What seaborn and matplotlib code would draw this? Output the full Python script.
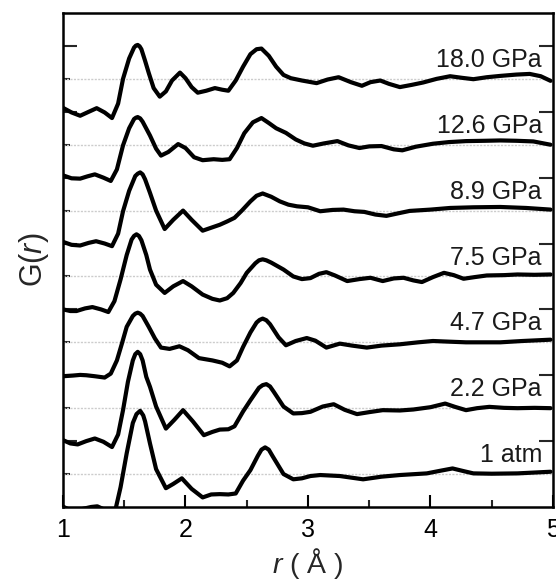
import numpy as np
import matplotlib
matplotlib.use("Agg")
import matplotlib.pyplot as plt
import seaborn as sns

# G(r) curves, offset by 2 per pressure
labels = ["1 atm", "2.2 GPa", "4.7 GPa", "7.5 GPa", "8.9 GPa", "12.6 GPa", "18.0 GPa"]
offsets = [0, 2, 4, 6, 8, 10, 12]

r_1atm = [1.00, 1.05, 1.10, 1.17, 1.23, 1.28, 1.35, 1.40, 1.43, 1.47, 1.52, 1.57, 1.60, 1.63, 1.655, 1.67, 1.71, 1.76,
          1.84, 1.90, 1.97, 2.05, 2.14, 2.21, 2.28, 2.35, 2.41, 2.47, 2.53, 2.59, 2.62, 2.65, 2.68, 2.71, 2.80, 2.88,
          2.95, 3.02, 3.10, 3.26, 3.45, 3.60, 3.75, 3.97, 4.08, 4.18, 4.28, 4.35, 4.50, 4.71, 4.98]
g_1atm = [-0.99, -1.08, -1.12, -1.05, -1.0, -0.98, -1.10, -1.20, -1.05, -0.40, 0.63, 1.55, 1.82, 1.92, 1.78, 1.60, 0.93, 0.15,
          -0.43, -0.30, -0.13, -0.45, -0.71, -0.62, -0.61, -0.62, -0.59, -0.20, 0.12, 0.55, 0.74, 0.81, 0.74, 0.55, 0.0, -0.16,
          -0.13, -0.06, -0.03, -0.06, -0.16, -0.08, -0.03, 0.02, 0.10, 0.17, 0.08, 0.02, 0.01, 0.02, 0.07]

r_2p2 = [1.00, 1.06, 1.12, 1.19, 1.26, 1.33, 1.40, 1.45, 1.49, 1.53, 1.57, 1.59, 1.61, 1.63, 1.65, 1.68, 1.71, 1.76,
         1.84, 1.91, 1.98, 2.06, 2.15, 2.22, 2.28, 2.35, 2.40, 2.47, 2.53, 2.60, 2.63, 2.66, 2.69, 2.72, 2.80, 2.88,
         2.95, 3.02, 3.12, 3.21, 3.30, 3.40, 3.50, 3.61, 3.75, 3.86, 4.00, 4.12, 4.20, 4.29, 4.38, 4.48,
         4.60, 4.71, 4.85, 4.98]
g_2p2 = [-0.97, -1.07, -1.10, -1.00, -0.92, -1.02, -1.18, -0.80, -0.06, 0.80, 1.45, 1.64, 1.71, 1.64, 1.45, 0.95, 0.65, 0.05,
         -0.62, -0.35, -0.06, -0.40, -0.82, -0.72, -0.65, -0.64, -0.55, -0.10, 0.24, 0.62, 0.70, 0.73, 0.66, 0.50, 0.05, -0.16,
         -0.15, -0.11, 0.05, 0.12, -0.05, -0.18, -0.12, -0.06, -0.07, -0.04, 0.03, 0.14, 0.04, -0.06, 0.0, 0.04,
         0.01, 0.0, 0.01, 0.0]

r_4p7 = [1.00, 1.08, 1.14, 1.19, 1.26, 1.34, 1.39, 1.44, 1.48, 1.52, 1.57, 1.59, 1.61, 1.63, 1.65, 1.70, 1.75, 1.80,
         1.87, 1.95, 2.02, 2.11, 2.22, 2.30, 2.36, 2.42, 2.47, 2.53, 2.58, 2.605, 2.63, 2.66, 2.69, 2.76, 2.82, 2.90,
         2.99, 3.06, 3.15, 3.26, 3.36, 3.48, 3.60, 3.75, 3.90, 4.02, 4.15, 4.29, 4.45, 4.57, 4.75, 4.98]
g_4p7 = [-1.03, -1.01, -0.99, -1.00, -1.03, -1.07, -0.95, -0.55, -0.05, 0.47, 0.80, 0.87, 0.90, 0.87, 0.80, 0.47, 0.12, -0.16,
         -0.20, -0.12, -0.24, -0.48, -0.55, -0.62, -0.73, -0.55, -0.14, 0.30, 0.60, 0.68, 0.72, 0.67, 0.55, 0.15, -0.09, 0.04,
         0.13, 0.05, -0.16, -0.04, -0.10, -0.16, -0.10, -0.06, 0.0, 0.04, 0.02, 0.0, 0.0, 0.0, 0.04, 0.08]

r_7p5 = [1.00, 1.06, 1.11, 1.18, 1.24, 1.31, 1.37, 1.42, 1.47, 1.52, 1.56, 1.58, 1.60, 1.62, 1.64, 1.68, 1.71, 1.76,
         1.83, 1.90, 1.98, 2.05, 2.14, 2.22, 2.28, 2.34, 2.39, 2.45, 2.50, 2.57, 2.60, 2.63, 2.66, 2.70, 2.80, 2.88,
         2.95, 3.02, 3.09, 3.15, 3.22, 3.32, 3.42, 3.51, 3.61, 3.70, 3.78, 3.86, 3.93, 4.02, 4.11, 4.19,
         4.27, 4.36, 4.46, 4.60, 4.71, 4.85, 4.98]
g_7p5 = [-1.00, -1.05, -1.05, -0.97, -0.93, -1.00, -1.08, -0.75, -0.09, 0.65, 1.12, 1.23, 1.28, 1.23, 1.10, 0.65, 0.21, -0.25,
         -0.50, -0.30, -0.14, -0.30, -0.55, -0.68, -0.73, -0.66, -0.50, -0.20, 0.11, 0.40, 0.49, 0.52, 0.49, 0.42, 0.21, 0.0,
         -0.08, -0.05, 0.08, 0.13, 0.03, -0.14, -0.08, -0.04, -0.14, -0.06, -0.04, -0.12, -0.17, -0.02, 0.11, 0.04,
         -0.07, -0.02, 0.03, 0.04, 0.06, 0.05, 0.06]

r_8p9 = [1.00, 1.07, 1.14, 1.21, 1.27, 1.34, 1.40, 1.45, 1.49, 1.54, 1.59, 1.61, 1.63, 1.65, 1.67, 1.71, 1.76, 1.83,
         1.90, 1.98, 2.05, 2.14, 2.21, 2.28, 2.34, 2.40, 2.46, 2.53, 2.58, 2.63, 2.70, 2.77, 2.84, 2.91,
         3.00, 3.10, 3.20, 3.29, 3.38, 3.46, 3.55, 3.64, 3.74, 3.83, 4.00, 4.16, 4.35, 4.57, 4.78, 4.98]
g_8p9 = [-0.95, -1.04, -1.06, -0.98, -0.93, -1.00, -1.08, -0.70, -0.02, 0.60, 1.05, 1.12, 1.16, 1.10, 0.95, 0.54, 0.00, -0.56,
         -0.28, 0.00, -0.28, -0.61, -0.52, -0.43, -0.33, -0.22, 0.00, 0.28, 0.45, 0.52, 0.42, 0.28, 0.18, 0.13,
         0.10, -0.02, 0.02, 0.03, -0.02, -0.04, -0.12, -0.16, -0.08, -0.01, 0.03, 0.08, 0.10, 0.11, 0.08, 0.03]

r_12p6 = [1.00, 1.07, 1.14, 1.20, 1.26, 1.33, 1.39, 1.44, 1.49, 1.54, 1.58, 1.595, 1.61, 1.63, 1.65, 1.71, 1.76, 1.80,
          1.86, 1.94, 2.00, 2.07, 2.14, 2.23, 2.30, 2.36, 2.42, 2.48, 2.55, 2.62, 2.68, 2.74, 2.82, 2.90,
          2.97, 3.04, 3.13, 3.24, 3.33, 3.42, 3.50, 3.60, 3.70, 3.77, 3.88, 4.02, 4.15, 4.29, 4.45, 4.57,
          4.70, 4.84, 4.98]
g_12p6 = [-0.93, -1.02, -1.03, -0.96, -0.90, -1.00, -1.10, -0.75, -0.02, 0.50, 0.78, 0.82, 0.84, 0.80, 0.70, 0.28, -0.12, -0.33,
          -0.22, 0.02, -0.10, -0.38, -0.47, -0.44, -0.46, -0.44, -0.10, 0.35, 0.68, 0.81, 0.66, 0.50, 0.36, 0.16,
          0.04, -0.03, 0.04, 0.11, -0.02, -0.10, -0.05, -0.04, -0.14, -0.17, -0.06, 0.03, 0.08, 0.11, 0.12, 0.13,
          0.12, 0.10, 0.0]

r_18p0 = [1.00, 1.07, 1.14, 1.21, 1.275, 1.34, 1.40, 1.45, 1.49, 1.54, 1.58, 1.595, 1.61, 1.625, 1.64, 1.67, 1.70, 1.74,
          1.79, 1.84, 1.89, 1.955, 2.00, 2.05, 2.10, 2.17, 2.24, 2.30, 2.35, 2.41, 2.47, 2.53, 2.58, 2.62,
          2.68, 2.74, 2.80, 2.86, 2.95, 3.07, 3.16, 3.25, 3.35, 3.44, 3.51, 3.59, 3.66, 3.75, 3.85, 3.94,
          4.05, 4.16, 4.26, 4.35, 4.46, 4.57, 4.70, 4.81, 4.90, 4.98]
g_18p0 = [-0.88, -1.02, -1.12, -1.00, -0.89, -1.02, -1.19, -0.75, 0.0, 0.62, 0.95, 1.01, 1.03, 0.99, 0.90, 0.55, 0.18, -0.28,
          -0.54, -0.38, -0.05, 0.19, 0.02, -0.25, -0.42, -0.36, -0.28, -0.33, -0.36, -0.05, 0.37, 0.75, 0.90, 0.92,
          0.70, 0.37, 0.12, 0.02, -0.05, -0.13, -0.02, 0.05, -0.10, -0.21, -0.10, -0.05, -0.15, -0.25, -0.18, -0.11,
          0.0, 0.08, 0.03, -0.01, 0.05, 0.09, 0.13, 0.15, 0.08, -0.06]

curves_r = [r_1atm, r_2p2, r_4p7, r_7p5, r_8p9, r_12p6, r_18p0]
curves_g = [g_1atm, g_2p2, g_4p7, g_7p5, g_8p9, g_12p6, g_18p0]

sns.set_theme(style="ticks")
plt.rcParams["font.family"] = ["Liberation Sans", "DejaVu Sans"]
plt.rcParams["mathtext.fontset"] = "custom"
plt.rcParams["mathtext.it"] = "Liberation Sans:italic"
plt.rcParams["mathtext.rm"] = "Liberation Sans"

fig = plt.figure(figsize=(5.56, 5.83), dpi=100)
ax = fig.add_axes([0.1133, 0.1304, 0.8813, 0.8473])

for off, lab, r, g in zip(offsets, labels, curves_r, curves_g):
    ax.axhline(off, color="#cccccc", lw=1.0, ls=(0, (1.5, 1)), zorder=1)
    sns.lineplot(x=np.array(r), y=np.array(g) + off, ax=ax, color="black", lw=3.0,
                 sort=False, estimator=None, zorder=3)
    ax.text(4.91, off + 0.36, lab, ha="right", va="baseline", fontsize=18, color="#1a1a1a")

for ln in ax.lines:
    ln.set_solid_joinstyle("round")
    ln.set_solid_capstyle("round")

ax.set_xlim(1, 5)
ax.set_ylim(-1, 14)
ax.set_xticks([1, 2, 3, 4, 5])
ax.set_xticks([1.5, 2.5, 3.5, 4.5], minor=True)
ax.set_yticks([1, 3, 5, 7, 9, 11, 13])
ax.set_yticks([0, 2, 4, 6, 8, 10, 12], minor=True)
ax.set_yticklabels([])
ax.tick_params(axis="x", which="major", direction="in", length=9, width=1.5, labelsize=18, pad=8,
               top=False, colors="black")
ax.tick_params(axis="x", which="minor", direction="in", length=5, width=1.5, top=False)
ax.tick_params(axis="y", which="major", direction="in", length=10, width=1.5, left=True, right=True)
ax.tick_params(axis="y", which="minor", direction="in", length=5, width=1.5, left=True, right=False)
for s in ax.spines.values():
    s.set_linewidth(1.8)
    s.set_color("black")

ax.set_xlabel(r"$\it{r}$ ( Å )", fontsize=20.5, labelpad=3)
ax.set_ylabel(r"G($\it{r}$)", fontsize=22, labelpad=5)

fig.savefig("out.png", dpi=100)
